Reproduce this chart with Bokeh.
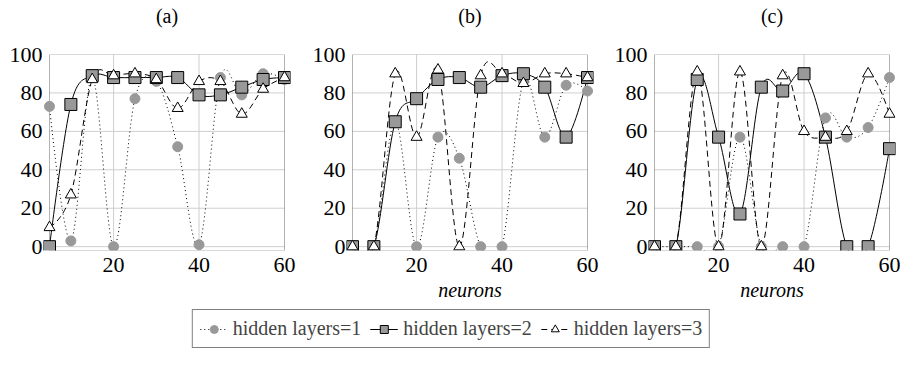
from bokeh.plotting import figure
from bokeh.models import (Range1d, BoxAnnotation, Legend, LegendItem, FixedTicker,
                          ColumnDataSource, LinearAxis)
from bokeh.layouts import row, column
from bokeh.embed import file_html
from bokeh.resources import INLINE

# ---------------- data ----------------
neurons = [5, 10, 15, 20, 25, 30, 35, 40, 45, 50, 55, 60]

a_h1 = [73, 3, 88, 0, 77, 86, 52, 1, 88, 79, 90, 87]
a_h2 = [0, 74, 89, 88, 88, 88, 88, 79, 79, 83, 87, 88]
a_h3 = [10, 27, 87, 89, 90, 87, 72, 86, 86, 69, 82, 88]

b_h1 = [0, 0, 65, 0, 57, 46, 0, 0, 86, 57, 84, 81]
b_h2 = [0, 0, 65, 77, 87, 88, 83, 89, 90, 83, 57, 88]
b_h3 = [0, 0, 90, 57, 92, 0, 89, 90, 85, 90, 90, 88]

c_h1 = [0, 0, 0, 0, 57, 0, 0, 0, 67, 57, 62, 88]
c_h2 = [0, 0, 87, 57, 17, 83, 81, 90, 57, 0, 0, 51]
c_h3 = [0, 0, 91, 0, 91, 0, 89, 60, 57, 60, 90, 69]

titles = ["(a)", "(b)", "(c)"]
series_labels = ["hidden layers=1", "hidden layers=2", "hidden layers=3"]
x_ticks = [20, 40, 60]
y_ticks = [0, 20, 40, 60, 80, 100]
x_label = "neurons"

# ---------------- style ----------------
SERIF = "'Liberation Serif', 'DejaVu Serif', serif"
XMIN, XMAX = 5, 60
YMIN, YMAX = -2, 100
BOX_W = 235
EXT = 6
FW = BOX_W + 2 * EXT
FH = 196
dx = EXT * (XMAX - XMIN) / BOX_W
GRID = "#cfcfcf"
GREY = "#999999"

styles = [
    dict(line_dash="1 3", marker="circle", size=10, fill=GREY, line=GREY),
    dict(line_dash="solid", marker="square", size=12, fill=GREY, line="black"),
    dict(line_dash="6 4", marker="triangle", size=11, fill="white", line="black"),
]


def smooth_segments(xs, ys, t=0.17):
    """Bezier control points like TikZ 'smooth' plots."""
    n = len(xs)
    d = dict(x0=[], y0=[], x1=[], y1=[], cx0=[], cy0=[], cx1=[], cy1=[])
    for i in range(n - 1):
        if i == 0:
            ax, ay = xs[0], ys[0]
        else:
            ax = xs[i] + t * (xs[i + 1] - xs[i - 1])
            ay = ys[i] + t * (ys[i + 1] - ys[i - 1])
        if i + 1 == n - 1:
            bx, by = xs[-1], ys[-1]
        else:
            bx = xs[i + 1] - t * (xs[i + 2] - xs[i])
            by = ys[i + 1] - t * (ys[i + 2] - ys[i])
        d["x0"].append(xs[i]); d["y0"].append(ys[i])
        d["x1"].append(xs[i + 1]); d["y1"].append(ys[i + 1])
        d["cx0"].append(ax); d["cy0"].append(ay)
        d["cx1"].append(bx); d["cy1"].append(by)
    return d


def make_panel(title, data, show_xlabel, min_left, min_right):
    p = figure(frame_width=FW, frame_height=FH,
               x_range=Range1d(XMIN - dx, XMAX + dx), y_range=Range1d(YMIN, YMAX),
               output_backend="svg", toolbar_location=None,
               min_border_left=min_left, min_border_right=min_right,
               min_border_top=54, min_border_bottom=59)
    p.outline_line_color = None
    p.xgrid.visible = False
    p.ygrid.visible = False
    p.background_fill_color = "white"

    xax = p.below[0]
    yax = p.left[0]
    for ax in (xax, yax):
        ax.axis_line_color = None
        ax.major_tick_out = 0
        ax.major_tick_in = 0
        ax.minor_tick_out = 0
        ax.minor_tick_in = 0
        ax.major_label_text_font = SERIF
        ax.major_label_text_font_size = "22px"
        ax.major_label_text_color = "black"
    xax.ticker = FixedTicker(ticks=x_ticks)
    yax.ticker = FixedTicker(ticks=y_ticks)
    yax.major_label_standoff = 1
    xax.major_label_standoff = 7
    if show_xlabel:
        xax.axis_label = x_label
        xax.axis_label_text_font = SERIF
        xax.axis_label_text_font_size = "20px"
        xax.axis_label_text_font_style = "italic"
        xax.axis_label_text_color = "black"
        xax.axis_label_standoff = 4

    # panel title: label of a tick-less axis above the box
    top_axis = LinearAxis(ticker=FixedTicker(ticks=[]), axis_label=title,
                          axis_line_color=None, major_tick_out=0, major_tick_in=0,
                          minor_tick_out=0, minor_tick_in=0,
                          axis_label_text_font=SERIF, axis_label_text_font_size="20px",
                          axis_label_text_font_style="normal",
                          axis_label_text_color="black", axis_label_standoff=28)
    p.add_layout(top_axis, "above")

    # grid lines inside the axis box
    hy = [v for v in y_ticks if YMIN < v < YMAX]
    p.segment(x0=[XMIN] * len(hy), x1=[XMAX] * len(hy), y0=hy, y1=hy,
              line_color=GRID, line_width=1, level="underlay")
    vx = [v for v in x_ticks if XMIN < v < XMAX]
    p.segment(x0=vx, x1=vx, y0=[YMIN] * len(vx), y1=[YMAX] * len(vx),
              line_color=GRID, line_width=1, level="underlay")
    p.add_layout(BoxAnnotation(left=XMIN, right=XMAX, bottom=YMIN, top=YMAX,
                               fill_color=None, fill_alpha=0, line_color="black",
                               line_width=1, level="underlay"))

    for ys, st in zip(data, styles):
        src = ColumnDataSource(smooth_segments(neurons, ys))
        p.bezier(x0="x0", y0="y0", x1="x1", y1="y1", cx0="cx0", cy0="cy0",
                 cx1="cx1", cy1="cy1", source=src, line_color="black",
                 line_width=1, line_dash=st["line_dash"])
    for ys, st in zip(data, styles):
        p.scatter(neurons, ys, marker=st["marker"], size=st["size"],
                  fill_color=st["fill"], line_color=st["line"], line_width=1)
    return p


pa = make_panel(titles[0], [a_h1, a_h2, a_h3], False, 43, 8)
pb = make_panel(titles[1], [b_h1, b_h2, b_h3], True, 48, 7)
pc = make_panel(titles[2], [c_h1, c_h2, c_h3], True, 48, 7)

# ---------------- legend ----------------
# legend-only figure: its ranges keep the (real) data out of view, so only the
# legend glyphs are visible
lp = figure(width=902, height=58, x_range=Range1d(0, 1), y_range=Range1d(0, 1),
            output_backend="svg", toolbar_location=None,
            x_axis_type=None, y_axis_type=None, min_border=0)
lp.outline_line_color = None
lp.grid.visible = False
items = []
for lab, st, ys in zip(series_labels, styles, [a_h1, a_h2, a_h3]):
    lr = lp.line(x=neurons, y=ys, line_color="black", line_width=1,
                 line_dash=st["line_dash"])
    sr = lp.scatter(x=neurons, y=ys, marker=st["marker"], size=st["size"] - 1,
                    fill_color=st["fill"], line_color=st["line"], line_width=1)
    items.append(LegendItem(label=lab, renderers=[lr, sr]))
legend = Legend(items=items, orientation="horizontal", location="top_center",
                margin=0, padding=7, spacing=9, glyph_width=28, glyph_height=20,
                label_standoff=5, label_text_font=SERIF, label_text_font_size="20px",
                border_line_color="black", border_line_width=1,
                background_fill_alpha=1)
lp.add_layout(legend, "center")

layout = column(row(pa, pb, pc), lp)
open("out.html", "w").write(file_html(layout, INLINE))
